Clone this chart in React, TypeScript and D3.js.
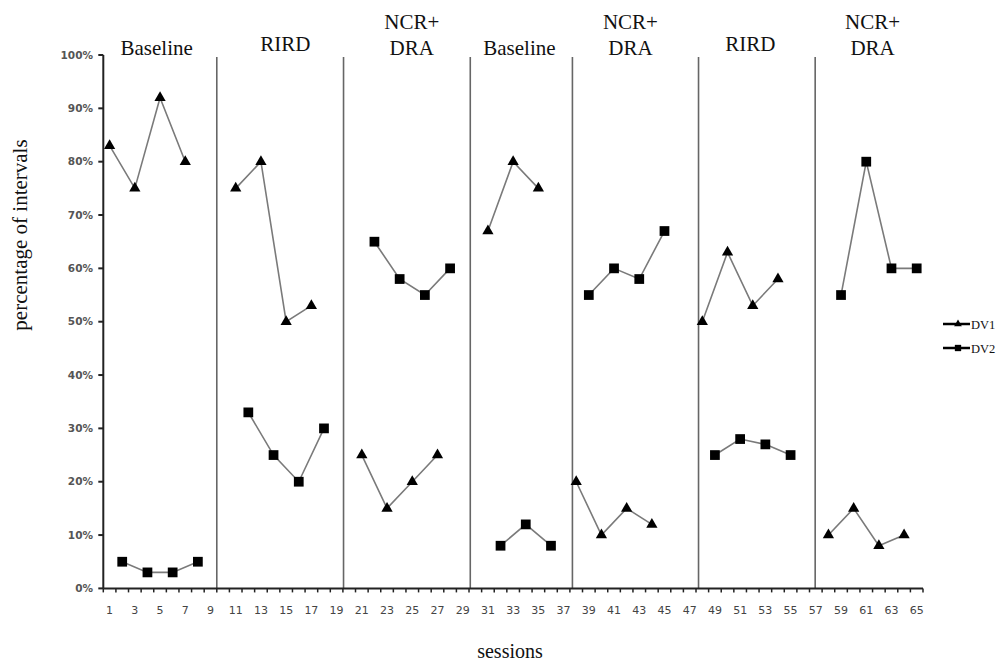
import React from "react";
import * as d3 from "d3";

// ---- data ----
const dv1Sessions = [1, 3, 5, 7, 11, 13, 15, 17, 21, 23, 25, 27, 31, 33, 35, 38, 40, 42, 44, 48, 50, 52, 54, 58, 60, 62, 64];
const dv1Values = [83, 75, 92, 80, 75, 80, 50, 53, 25, 15, 20, 25, 67, 80, 75, 20, 10, 15, 12, 50, 63, 53, 58, 10, 15, 8, 10];

const dv2Sessions = [2, 4, 6, 8, 12, 14, 16, 18, 22, 24, 26, 28, 32, 34, 36, 39, 41, 43, 45, 49, 51, 53, 55, 59, 61, 63, 65];
const dv2Values = [5, 3, 3, 5, 33, 25, 20, 30, 65, 58, 55, 60, 8, 12, 8, 55, 60, 58, 67, 25, 28, 27, 25, 55, 80, 60, 60];

// phase change lines (in session units, between sessions)
const phaseBoundaries = [9.5, 19.55, 29.6, 37.7, 47.7, 56.95];
const phaseNames = [["Baseline"], ["RIRD"], ["NCR+", "DRA"], ["Baseline"], ["NCR+", "DRA"], ["RIRD"], ["NCR+", "DRA"]];
const phaseLabelCenters = [4.73, 14.94, 24.96, 33.5, 42.3, 51.8, 61.5];

const xTickLabels = d3.range(1, 66, 2);
const yTickValues = d3.range(0, 101, 10);
const seriesNames = ["DV1", "DV2"];

const W = 1002;
const H = 662;

function phaseOf(s: number) {
  let p = 0;
  for (const b of phaseBoundaries) if (s > b) p++;
  return p;
}

function segments(sessions: number[], values: number[]) {
  const groups: [number, number][][] = [];
  sessions.forEach((s, i) => {
    const p = phaseOf(s);
    if (!groups[p]) groups[p] = [];
    groups[p].push([s, values[i]]);
  });
  return groups.filter(Boolean);
}

const serifStyle = { fontFamily: '"Liberation Serif", "Times New Roman", Times, serif' };
const sansStyle = { fontFamily: '"DejaVu Sans", Verdana, sans-serif' };

export default function App() {
  const x = d3.scaleLinear().domain([0.5, 65.5]).range([103.3, 923]);
  const y = d3.scaleLinear().domain([0, 100]).range([588.4, 55]);
  const line = d3
    .line<[number, number]>()
    .x((d) => x(d[0]))
    .y((d) => y(d[1]));

  const tri = d3.symbol(d3.symbolTriangle, 55)()!;
  const sq = d3.symbol(d3.symbolSquare, 95)()!;
  const triSmall = d3.symbol(d3.symbolTriangle, 26)()!;
  const sqSmall = d3.symbol(d3.symbolSquare, 40)()!;

  const seg1 = segments(dv1Sessions, dv1Values);
  const seg2 = segments(dv2Sessions, dv2Values);
  const boundaryTicks = d3.range(0.5, 66, 1);

  const phaseLabelY = (lines: string[]) => {
    if (lines.length === 2) return [29, 55];
    return lines[0] === "RIRD" ? [51] : [55];
  };

  return (
    <svg
      width={W}
      height={H}
      viewBox={`0 0 ${W} ${H}`}
      style={{ position: "absolute", left: 0, top: 0, background: "#fff" }}
    >
      <rect x={0} y={0} width={W} height={H} fill="#fff" />

      {/* phase change lines */}
      {phaseBoundaries.map((b, i) => (
        <line key={"pb" + i} x1={x(b)} x2={x(b)} y1={57} y2={y(0)} stroke="#666" strokeWidth={1.6} />
      ))}

      {/* phase labels */}
      {phaseNames.map((lines, i) => {
        const ys = phaseLabelY(lines);
        return lines.map((t, j) => (
          <text
            key={"pl" + i + j}
            x={x(phaseLabelCenters[i])}
            y={ys[j]}
            textAnchor="middle"
            style={{ ...serifStyle, fontSize: "21px" }}
            fill="#111"
          >
            {t}
          </text>
        ));
      })}

      {/* data lines */}
      {seg1.map((g, i) => (
        <path key={"l1" + i} d={line(g)!} fill="none" stroke="#7a7a7a" strokeWidth={1.6} />
      ))}
      {seg2.map((g, i) => (
        <path key={"l2" + i} d={line(g)!} fill="none" stroke="#7a7a7a" strokeWidth={1.6} />
      ))}

      {/* markers */}
      {dv1Sessions.map((s, i) => (
        <path key={"m1" + i} d={tri} transform={`translate(${x(s)},${y(dv1Values[i])})`} fill="#000" />
      ))}
      {dv2Sessions.map((s, i) => (
        <path key={"m2" + i} d={sq} transform={`translate(${x(s)},${y(dv2Values[i])})`} fill="#000" />
      ))}

      {/* y axis */}
      <line x1={x(0.5)} x2={x(0.5)} y1={y(100)} y2={y(0)} stroke="#222" strokeWidth={2} />
      {yTickValues.map((v) => (
        <g key={"yt" + v}>
          <line x1={x(0.5) - 5} x2={x(0.5)} y1={y(v)} y2={y(v)} stroke="#222" strokeWidth={2} />
          <text
            x={93}
            y={y(v)}
            dy="0.35em"
            textAnchor="end"
            style={{ ...sansStyle, fontSize: "10.5px", fontWeight: "bold" }}
            fill="#555"
          >
            {v + "%"}
          </text>
        </g>
      ))}

      {/* x axis */}
      <line x1={x(0.5)} x2={x(65.5)} y1={y(0)} y2={y(0)} stroke="#222" strokeWidth={2} />
      {boundaryTicks.map((b) => (
        <line key={"xt" + b} x1={x(b)} x2={x(b)} y1={y(0)} y2={y(0) + 4} stroke="#222" strokeWidth={1.5} />
      ))}
      {xTickLabels.map((s) => (
        <text
          key={"xl" + s}
          x={x(s)}
          y={614}
          textAnchor="middle"
          style={{ ...sansStyle, fontSize: "11px" }}
          fill="#444"
        >
          {s}
        </text>
      ))}

      {/* axis titles */}
      <text
        transform={`translate(27,235) rotate(-90)`}
        textAnchor="middle"
        style={{ ...serifStyle, fontSize: "21px" }}
        fill="#111"
      >
        percentage of intervals
      </text>
      <text x={510} y={658} textAnchor="middle" style={{ ...serifStyle, fontSize: "20px" }} fill="#111">
        sessions
      </text>

      {/* legend */}
      {seriesNames.map((n, i) => {
        const ly = 324 + i * 24;
        return (
          <g key={"lg" + n}>
            <line x1={943} x2={970} y1={ly} y2={ly} stroke="#000" strokeWidth={2.5} />
            <path d={i === 0 ? triSmall : sqSmall} transform={`translate(958,${ly})`} fill="#000" />
            <text x={971} y={ly + 4.5} style={{ ...serifStyle, fontSize: "12.5px" }} fill="#111">
              {n}
            </text>
          </g>
        );
      })}
    </svg>
  );
}
